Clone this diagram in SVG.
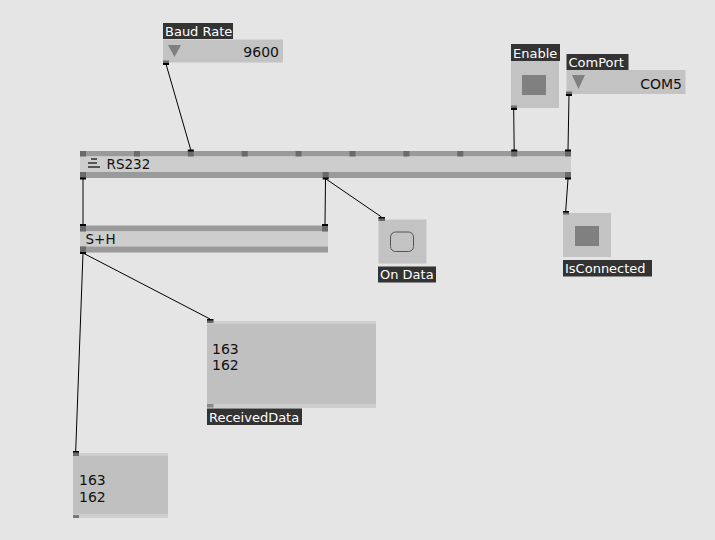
<svg xmlns="http://www.w3.org/2000/svg" width="715" height="540" viewBox="0 0 715 540">
<style>
.bg{fill:#e5e5e5}
.bar{fill:#9a9a9a}
.mid{fill:#cdcdcd}
.pin{fill:#6a6a6a}
.cap{fill:#000}
.lbl{fill:#333}
.lt{font-family:"DejaVu Sans","Liberation Sans",sans-serif;font-size:13px;fill:#fff}
.nt{font-family:"DejaVu Sans","Liberation Sans",sans-serif;font-size:13.5px;fill:#111}
.vt{font-family:"DejaVu Sans","Liberation Sans",sans-serif;font-size:14px;fill:#111}
.box{fill:#c3c3c3}
.vbox{fill:#c0c0c0}
.vstrip{fill:#cecece}
.tri{fill:#808080}
.sq{fill:#808080}
.wire{stroke:#000;stroke-width:1;fill:none}
</style>
<rect class="bg" x="0" y="0" width="715" height="540"/>

<g id="connectors">
<line class="wire" x1="166" y1="64" x2="190.8" y2="150"/>
<line class="wire" x1="513.7" y1="109" x2="514.2" y2="150"/>
<line class="wire" x1="569" y1="95" x2="568" y2="150"/>
<line class="wire" x1="83" y1="179" x2="83" y2="224"/>
<line class="wire" x1="325.5" y1="179" x2="325" y2="224"/>
<line class="wire" x1="326" y1="179" x2="381.5" y2="217"/>
<line class="wire" x1="568" y1="179" x2="565.7" y2="211"/>
<line class="wire" x1="83" y1="253" x2="210" y2="319"/>
<line class="wire" x1="83" y1="253" x2="75.7" y2="451"/>
</g>

<g id="baudrate">
<rect class="lbl" x="163" y="23" width="70" height="16"/>
<text class="lt" x="165" y="35.5">Baud Rate</text>
<rect class="box" x="163" y="39.5" width="120" height="23"/>
<polygon class="tri" points="168,45 181,45 174.5,57"/>
<text class="vt" x="279" y="56.5" text-anchor="end">9600</text>
<rect class="pin" x="163" y="60.5" width="6" height="3"/>
<rect class="cap" x="163" y="63" width="6" height="2"/>
</g>

<g id="enable">
<rect class="lbl" x="511" y="44" width="49" height="17"/>
<text class="lt" x="513" y="57.5">Enable</text>
<rect class="box" x="511" y="61" width="48" height="47"/>
<rect class="sq" x="522" y="75" width="24" height="20"/>
<rect class="pin" x="511" y="105.5" width="6" height="3"/>
<rect class="cap" x="511" y="108" width="6" height="2"/>
</g>

<g id="comport">
<rect class="lbl" x="566.5" y="54" width="62" height="16"/>
<text class="lt" x="568.5" y="66.5">ComPort</text>
<rect class="box" x="566.5" y="70" width="119" height="24"/>
<polygon class="tri" points="572,75 585,75 578.5,89"/>
<text class="vt" x="682" y="88.5" text-anchor="end">COM5</text>
<rect class="pin" x="566" y="91.5" width="6" height="2.5"/>
<rect class="cap" x="566" y="94" width="6" height="2"/>
</g>

<g id="rs232">
<rect class="bar" x="80" y="151" width="491" height="5.5"/>
<rect class="mid" x="80" y="156.5" width="491" height="15.5"/>
<rect class="bar" x="80" y="172" width="491" height="6"/>
<rect x="91" y="158" width="6" height="2" fill="#555"/>
<rect x="88" y="162" width="9" height="2" fill="#555"/>
<rect x="88" y="166" width="12" height="2" fill="#555"/>
<text class="nt" x="106.5" y="169">RS232</text>
<rect class="pin" x="80" y="151" width="6" height="5.5"/>
<rect class="pin" x="133.9" y="151" width="6" height="5.5"/>
<rect class="pin" x="187.8" y="151" width="6" height="5.5"/>
<rect class="pin" x="241.7" y="151" width="6" height="5.5"/>
<rect class="pin" x="295.6" y="151" width="6" height="5.5"/>
<rect class="pin" x="349.5" y="151" width="6" height="5.5"/>
<rect class="pin" x="403.4" y="151" width="6" height="5.5"/>
<rect class="pin" x="457.3" y="151" width="6" height="5.5"/>
<rect class="pin" x="511.2" y="151" width="6" height="5.5"/>
<rect class="pin" x="565" y="151" width="6" height="5.5"/>
<rect class="cap" x="187.8" y="149.5" width="6" height="2"/>
<rect class="cap" x="511.2" y="149.5" width="6" height="2"/>
<rect class="cap" x="565" y="149.5" width="6" height="2"/>
<rect class="pin" x="80" y="172" width="6" height="6"/>
<rect class="pin" x="322.7" y="172" width="6" height="6"/>
<rect class="pin" x="565" y="172" width="6" height="6"/>
<rect class="cap" x="80" y="177.5" width="6" height="2"/>
<rect class="cap" x="322.7" y="177.5" width="6" height="2"/>
<rect class="cap" x="565" y="177.5" width="6" height="2"/>
</g>

<g id="sh">
<rect class="bar" x="80" y="225.5" width="248" height="6"/>
<rect class="mid" x="80" y="231.5" width="248" height="15"/>
<rect class="bar" x="80" y="246.5" width="248" height="6"/>
<text class="nt" x="85.5" y="244">S+H</text>
<rect class="pin" x="80" y="225.5" width="6" height="6"/>
<rect class="pin" x="322" y="225.5" width="6" height="6"/>
<rect class="cap" x="80" y="224" width="6" height="2"/>
<rect class="cap" x="322" y="224" width="6" height="2"/>
<rect class="pin" x="80" y="246.5" width="6" height="6"/>
<rect class="cap" x="80" y="252" width="6" height="2"/>
</g>

<g id="ondata">
<rect class="box" x="378.5" y="219.5" width="48" height="44"/>
<rect x="390.5" y="232" width="23" height="19.5" rx="5" fill="none" stroke="#555" stroke-width="1"/>
<rect class="pin" x="378.5" y="218" width="6.5" height="3"/>
<rect class="cap" x="378.5" y="217" width="6.5" height="1.5"/>
<rect class="lbl" x="378" y="266.5" width="58" height="16"/>
<text class="lt" x="380" y="279">On Data</text>
</g>

<g id="isconnected">
<rect class="box" x="563" y="213" width="48" height="44"/>
<rect class="sq" x="575" y="226" width="24" height="20"/>
<rect class="pin" x="563" y="212" width="6" height="2.5"/>
<rect class="cap" x="563" y="211" width="6" height="1.5"/>
<rect class="lbl" x="563" y="260" width="89" height="16.5"/>
<text class="lt" x="565" y="273">IsConnected</text>
</g>

<g id="receiveddata">
<rect class="vbox" x="207" y="321" width="169" height="87"/>
<rect class="vstrip" x="207" y="321" width="169" height="3"/>
<rect class="vstrip" x="207" y="404" width="169" height="4"/>
<rect class="pin" x="207" y="320" width="6.5" height="3"/>
<rect class="cap" x="207" y="319" width="6.5" height="1.5"/>
<rect x="207" y="404" width="6.5" height="3.5" fill="#888"/>
<text class="vt" x="212" y="353.5">163</text>
<text class="vt" x="212" y="370">162</text>
<rect class="lbl" x="207" y="408.5" width="95" height="16.5"/>
<text class="lt" x="209" y="421.5">ReceivedData</text>
</g>

<g id="output2">
<rect class="vbox" x="73" y="453" width="95" height="65"/>
<rect class="vstrip" x="73" y="453" width="95" height="3"/>
<rect class="vstrip" x="73" y="514" width="95" height="4"/>
<rect class="pin" x="73" y="452" width="6" height="4"/>
<rect class="cap" x="73" y="451" width="6" height="1.5"/>
<rect x="73" y="515" width="6" height="3" fill="#777"/>
<text class="vt" x="79" y="485">163</text>
<text class="vt" x="79" y="501.5">162</text>
</g>
</svg>
